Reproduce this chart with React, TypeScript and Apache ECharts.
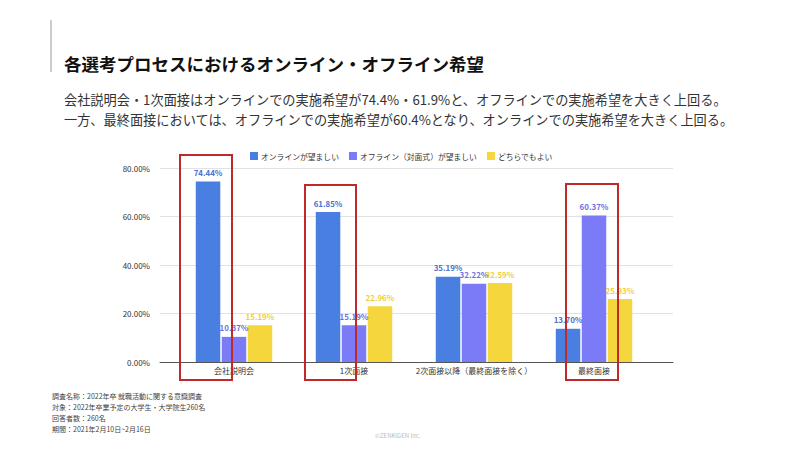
import React, { useEffect, useRef } from "react";
import * as echarts from "echarts";

const categories = ["会社説明会", "1次面接", "2次面接以降（最終面接を除く）", "最終面接"];
const seriesNames = ["オンラインが望ましい", "オフライン（対面式）が望ましい", "どちらでもよい"];
const onlineValues = [74.44, 61.85, 35.19, 13.7];
const offlineValues = [10.37, 15.19, 32.22, 60.37];
const eitherValues = [15.19, 22.96, 32.59, 25.93];
const yTicks = [0, 20, 40, 60, 80];

const title = "各選考プロセスにおけるオンライン・オフライン希望";
const subtitle1 = "会社説明会・1次面接はオンラインでの実施希望が74.4%・61.9%と、オフラインでの実施希望を大きく上回る。";
const subtitle2 = "一方、最終面接においては、オフラインでの実施希望が60.4%となり、オンラインでの実施希望を大きく上回る。";
const notes = [
  "調査名称：2022年卒 就職活動に関する意識調査",
  "対象：2022年卒業予定の大学生・大学院生260名",
  "回答者数：260名",
  "期間：2021年2月10日~2月16日",
];
const copyright = "©ZENKIGEN Inc.";

const colors = ["#4a7fe2", "#7b7bf7", "#f5d63c"];
const labelColors = ["#4a72d0", "#6f70e0", "#f0cf3a"];
const FONT = "'Noto Sans CJK JP', 'Noto Sans', sans-serif";

export default function App() {
  const ref = useRef<HTMLDivElement>(null);
  useEffect(() => {
    if (!ref.current) return;
    const chart = echarts.init(ref.current, null, { renderer: "svg" });
    const valueSets = [onlineValues, offlineValues, eitherValues];
    const redRect = (x: number, y: number, w: number, h: number) => ({
      type: "rect",
      shape: { x, y, width: w, height: h },
      style: { fill: "none", stroke: "#c0282a", lineWidth: 2 },
      z: 100,
    });
    chart.setOption({
      animation: false,
      backgroundColor: "#ffffff",
      textStyle: { fontFamily: FONT },
      legend: {
        top: 147,
        left: 245,
        itemWidth: 8,
        itemHeight: 8,
        itemGap: 10,
        icon: "rect",
        textStyle: { fontSize: 7.8, color: "#333", fontFamily: FONT, padding: [0, 0, 0, -2] },
        data: seriesNames,
      },
      grid: [
        { left: 160, right: 127, top: 168, bottom: 88, containLabel: false },
        { left: 174, width: 480, top: 168, bottom: 88, containLabel: false },
      ],
      xAxis: [
        {
          type: "category",
          gridIndex: 0,
          data: ["a"],
          axisLine: { show: true, lineStyle: { color: "#555", width: 1 } },
          axisTick: { show: false },
          axisLabel: { show: false },
        },
        {
          type: "category",
          gridIndex: 1,
          data: categories,
          axisLine: { show: false },
          axisTick: { show: false },
          axisLabel: { interval: 0, fontSize: 8, color: "#333", margin: 4, fontFamily: FONT },
        },
      ],
      yAxis: [
        {
          type: "value",
          gridIndex: 0,
          min: 0,
          max: 80,
          interval: 20,
          axisLine: { show: false },
          axisTick: { show: false },
          axisLabel: {
            fontSize: 8,
            color: "#333",
            margin: 10,
            formatter: (v: number) => (yTicks.includes(v) ? v.toFixed(2) + "%" : ""),
          },
          splitLine: { lineStyle: { color: "#e2e2e2", width: 1 } },
        },
        {
          type: "value",
          gridIndex: 1,
          min: 0,
          max: 80,
          interval: 20,
          show: false,
          splitLine: { show: false },
        },
      ],
      series: seriesNames.map((name, i) => ({
        name,
        type: "bar",
        xAxisIndex: 1,
        yAxisIndex: 1,
        data: valueSets[i],
        barWidth: 24.5,
        barGap: "6%",
        itemStyle: { color: colors[i] },
        label: {
          show: true,
          position: "top",
          distance: 5,
          fontSize: 7.9,
          fontWeight: "bold",
          color: labelColors[i],
          formatter: (p: any) => p.value.toFixed(2) + "%",
        },
      })),
      graphic: [
        {
          type: "line",
          shape: { x1: 51, y1: 20, x2: 51, y2: 72 },
          style: { stroke: "#9a9a9a", lineWidth: 1 },
        },
        {
          type: "text",
          left: 64,
          top: 55,
          style: { text: title, fontSize: 17.5, fontWeight: "bold", fill: "#111", fontFamily: FONT },
        },
        {
          type: "text",
          left: 64,
          top: 93,
          style: { text: subtitle1, fontSize: 13.2, fill: "#333", fontFamily: FONT },
        },
        {
          type: "text",
          left: 64,
          top: 113,
          style: { text: subtitle2, fontSize: 13.2, fill: "#333", fontFamily: FONT },
        },
        ...notes.map((t, i) => ({
          type: "text",
          left: 52,
          top: 392 + i * 11,
          style: { text: t, fontSize: 7, fill: "#444", fontFamily: FONT },
        })),
        {
          type: "text",
          left: 375,
          top: 432,
          style: { text: copyright, fontSize: 6, fill: "#bbbbbb", fontFamily: FONT },
        },
        redRect(180, 155, 52, 225),
        redRect(305, 185, 51, 195),
        redRect(566, 184, 52, 196),
      ],
    });
    return () => chart.dispose();
  }, []);
  return <div ref={ref} style={{ width: 800, height: 450, margin: -8 }} />;
}
